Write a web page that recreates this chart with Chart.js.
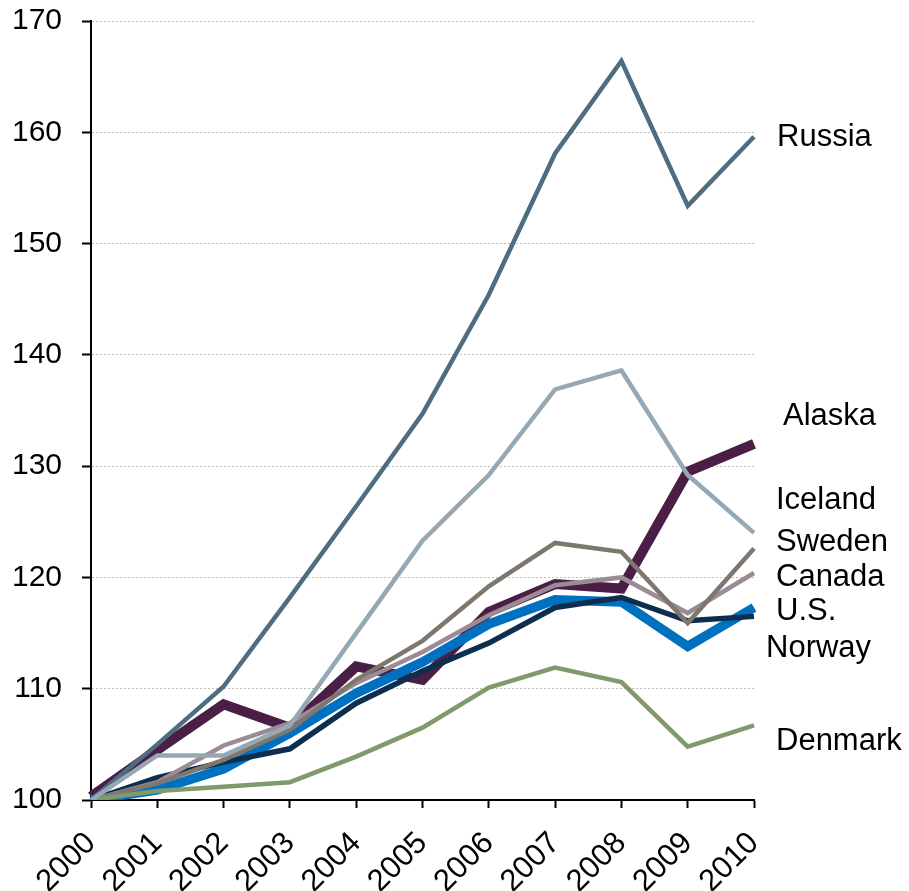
<!DOCTYPE html>
<html>
<head>
<meta charset="utf-8">
<script src="https://cdn.jsdelivr.net/npm/chart.js@4"></script>
<style>
  html, body { margin: 0; padding: 0; background: #fff; }
  #wrap { width: 909px; height: 891px; position: relative; }
</style>
</head>
<body>
<div id="wrap"><canvas id="c"></canvas></div>
<script>
const years = ['2000','2001','2002','2003','2004','2005','2006','2007','2008','2009','2010'];
const yTicks = [100, 110, 120, 130, 140, 150, 160, 170];

const russia  = [100, 105.0, 110.2, 118.2, 126.4, 134.7, 145.4, 158.1, 166.4, 153.4, 159.6];
const iceland = [100, 104.0, 104.0, 106.7, 115.0, 123.3, 129.2, 136.9, 138.6, 129.2, 124.0];
const alaska  = [100.3, 104.5, 108.6, 106.5, 112.0, 110.8, 116.9, 119.4, 119.0, 129.5, 132.0];
const sweden  = [100, 101.5, 103.6, 106.3, 110.8, 114.3, 119.2, 123.1, 122.3, 115.9, 122.6];
const canada  = [100, 101.6, 104.9, 106.9, 110.5, 113.3, 116.6, 119.3, 120.0, 116.8, 120.4];
const us      = [100, 102.0, 103.4, 104.6, 108.7, 111.6, 114.1, 117.3, 118.2, 116.1, 116.5];
const norway  = [100, 100.9, 102.8, 106.0, 109.6, 112.4, 115.8, 118.0, 117.8, 113.8, 117.3];
const denmark = [100, 100.8, 101.2, 101.6, 103.9, 106.5, 110.1, 111.9, 110.6, 104.8, 106.7];

// series end labels: text and the value level at which each label sits
const labelNames  = ['Russia', 'Alaska', 'Iceland', 'Sweden', 'Canada', 'U.S.', 'Norway', 'Denmark'];
const labelLevels = [159.5, 134.5, 126.9, 123.1, 120.0, 116.95, 113.6, 105.3];
const labelShift  = [23, 29, 22, 22, 22, 22, 12, 22];

const endLabels = {
  id: 'endLabels',
  afterDraw(chart) {
    const ctx = chart.ctx, y = chart.scales.y, area = chart.chartArea;
    ctx.save();
    ctx.font = '31px "Liberation Sans", Arial, sans-serif';
    ctx.fillStyle = '#000';
    ctx.textAlign = 'left';
    ctx.textBaseline = 'middle';
    labelNames.forEach((t, i) => {
      ctx.fillText(t, area.right + labelShift[i], y.getPixelForValue(labelLevels[i]));
    });
    ctx.restore();
  }
};

function ds(label, data, color, width) {
  return { label, data, borderColor: color, backgroundColor: color, borderWidth: width,
           pointRadius: 0, pointHoverRadius: 0, tension: 0, fill: false };
}

new Chart(document.getElementById('c'), {
  type: 'line',
  data: {
    labels: years,
    datasets: [
      ds('Iceland', iceland, '#95A8B4', 4.5),
      ds('Denmark', denmark, '#7F9B6B', 4.5),
      ds('Sweden',  sweden,  '#7E776E', 4.5),
      ds('Canada',  canada,  '#9A8B97', 4.5),
      ds('U.S.',    us,      '#0D2E4F', 5.5),
      ds('Norway',  norway,  '#0070C0', 9.5),
      ds('Russia',  russia,  '#4F6D80', 4.5),
      ds('Alaska',  alaska,  '#4B1F45', 10)
    ]
  },
  options: {
    responsive: true,
    maintainAspectRatio: false,
    animation: false,
    events: [],
    layout: { padding: { top: 21, right: 155, left: 0, bottom: 0 } },
    plugins: { legend: { display: false }, tooltip: { enabled: false } },
    scales: {
      x: {
        offset: false,
        afterFit(s) { s.height = 91; s.paddingLeft = 0; s.paddingRight = 0; },
        grid: { drawOnChartArea: false, drawTicks: true, tickLength: 8, tickColor: '#000', tickWidth: 2, tickBorderDash: [] },
        border: { display: true, color: '#000', width: 2 },
        ticks: { color: '#000', font: { family: '"Liberation Sans", Arial, sans-serif', size: 31 },
                 maxRotation: 45, minRotation: 45, padding: 17, autoSkip: false }
      },
      y: {
        min: 100, max: 170,
        afterFit(s) { s.width = 91; s.paddingTop = 0; s.paddingBottom = 0; },
        afterBuildTicks(s) { s.ticks = yTicks.map(v => ({ value: v })); },
        grid: { color: '#BDBDBD', lineWidth: 1, drawTicks: true, tickLength: 9, tickColor: '#000', tickWidth: 2, tickBorderDash: [] },
        border: { display: true, color: '#000', width: 2, dash: [2, 2] },
        ticks: { color: '#000', font: { family: '"Liberation Sans", Arial, sans-serif', size: 30 }, padding: 20 }
      }
    }
  },
  plugins: [endLabels]
});
</script>
</body>
</html>
